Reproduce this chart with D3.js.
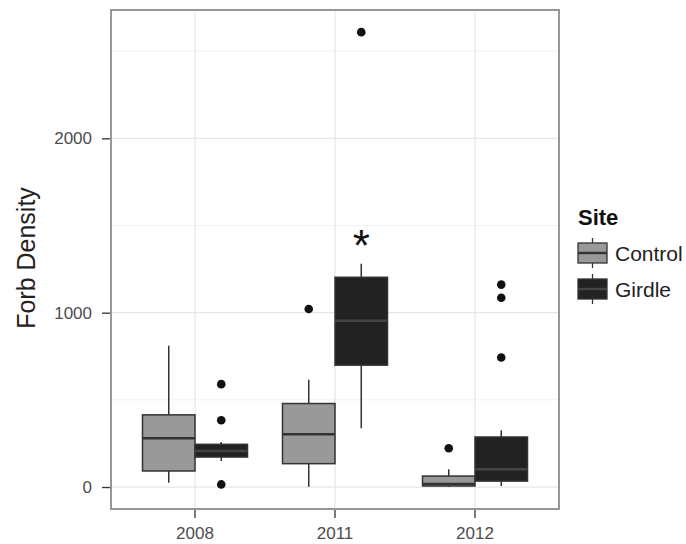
<!DOCTYPE html>
<html lang="en">
<head>
<meta charset="utf-8">
<title>Forb Density</title>
<script src="https://d3js.org/d3.v7.min.js"></script>
<style>
  body, html { margin: 0; background: #fff; }
  svg { font-family: "Liberation Sans", Arial, sans-serif; }
</style>
</head>
<body>
<svg width="686" height="544"></svg>
<script>
// data
var years = ["2008", "2011", "2012"];
var sites = ["Control", "Girdle"];
var yTicks = [0, 1000, 2000];
// [lowerWhisker, q1, median, q3, upperWhisker] per year
var controlStats = [
  [25, 92, 280, 414, 810],
  [2, 134, 303, 479, 615],
  [0, 6, 17, 63, 102]
];
var girdleStats = [
  [150, 172, 207, 245, 258],
  [337, 699, 954, 1203, 1280],
  [6, 34, 102, 287, 326]
];
var controlOutliers = [[], [1021], [222]];
var girdleOutliers = [[590, 383, 15], [2609], [743, 1086, 1161]];
var siteFill = ["#999999", "#222222"];

var svg = d3.select("svg");
var m = {left: 111, right: 559, top: 10, bottom: 509};

var x = d3.scaleBand().domain(years)
  .range([m.left, m.right]).paddingOuter(0.1).paddingInner(0);
var bw = x.bandwidth();
var xs = d3.scaleBand().domain(sites).range([bw * 0.125, bw * 0.875]);

var y = d3.scaleLinear().domain([-126, 2736]).range([m.bottom, m.top]);

// panel + grid
var g = svg.append("g");
g.append("rect").attr("x", m.left).attr("y", m.top)
  .attr("width", m.right - m.left).attr("height", m.bottom - m.top)
  .attr("fill", "#fff");
[500, 1500, 2500].forEach(function(v) {
  g.append("line").attr("x1", m.left).attr("x2", m.right)
    .attr("y1", y(v)).attr("y2", y(v))
    .attr("stroke", "#f2f2f2").attr("stroke-width", 1);
});
yTicks.forEach(function(v) {
  g.append("line").attr("x1", m.left).attr("x2", m.right)
    .attr("y1", y(v)).attr("y2", y(v))
    .attr("stroke", "#e6e6e6").attr("stroke-width", 1.2);
});
years.forEach(function(yr) {
  var cx = x(yr) + bw / 2;
  g.append("line").attr("x1", cx).attr("x2", cx)
    .attr("y1", m.top).attr("y2", m.bottom)
    .attr("stroke", "#e6e6e6").attr("stroke-width", 1.2);
});

// boxes
function drawBoxes(stats, outliers, si) {
  var site = sites[si];
  years.forEach(function(yr, i) {
    var s = stats[i];
    var x0 = x(yr) + xs(site), w = xs.bandwidth(), cx = x0 + w / 2;
    var bg = g.append("g");
    bg.append("line").attr("x1", cx).attr("x2", cx)
      .attr("y1", y(s[4])).attr("y2", y(s[3]))
      .attr("stroke", "#333").attr("stroke-width", 1.5);
    bg.append("line").attr("x1", cx).attr("x2", cx)
      .attr("y1", y(s[1])).attr("y2", y(s[0]))
      .attr("stroke", "#333").attr("stroke-width", 1.5);
    bg.append("rect").attr("x", x0).attr("width", w)
      .attr("y", y(s[3])).attr("height", y(s[1]) - y(s[3]))
      .attr("fill", siteFill[si]).attr("stroke", "#333").attr("stroke-width", 1.5);
    bg.append("line").attr("x1", x0).attr("x2", x0 + w)
      .attr("y1", y(s[2])).attr("y2", y(s[2]))
      .attr("stroke", si ? "#444" : "#333").attr("stroke-width", 2.6);
    outliers[i].forEach(function(v) {
      bg.append("circle").attr("cx", cx).attr("cy", y(v)).attr("r", 4.3)
        .attr("fill", "#111");
    });
  });
}
drawBoxes(controlStats, controlOutliers, 0);
drawBoxes(girdleStats, girdleOutliers, 1);

// significance mark
g.append("text").attr("x", x("2011") + xs("Girdle") + xs.bandwidth() / 2)
  .attr("y", y(1280) - 3).attr("text-anchor", "middle")
  .attr("font-size", 44).attr("fill", "#111").text("*");

// border
g.append("rect").attr("x", m.left).attr("y", m.top)
  .attr("width", m.right - m.left).attr("height", m.bottom - m.top)
  .attr("fill", "none").attr("stroke", "#8c8c8c").attr("stroke-width", 1.8);

// axes
var yAxis = d3.axisLeft(y).tickValues(yTicks).tickSize(8).tickPadding(10)
  .tickFormat(d3.format("d"));
var ya = svg.append("g").attr("transform", "translate(" + (m.left - 1) + ",0)").call(yAxis);
var xAxis = d3.axisBottom(x).tickSize(8).tickPadding(9);
var xa = svg.append("g").attr("transform", "translate(0," + (m.bottom + 1) + ")").call(xAxis);
[ya, xa].forEach(function(a) {
  a.select(".domain").remove();
  a.selectAll(".tick line").attr("stroke", "#333").attr("stroke-width", 1.3);
  a.selectAll(".tick text").attr("fill", "#4d4d4d").attr("font-size", 17)
    .attr("font-family", "Liberation Sans, Arial, sans-serif");
});

svg.append("text")
  .attr("transform", "translate(35,258) rotate(-90)")
  .attr("text-anchor", "middle").attr("font-size", 25).attr("fill", "#222")
  .text("Forb Density");

// legend
var lg = svg.append("g").attr("transform", "translate(578,0)");
lg.append("text").attr("x", 0).attr("y", 225).attr("font-size", 22)
  .attr("font-weight", "bold").attr("fill", "#111").text("Site");
sites.forEach(function(s, i) {
  var cy = 253 + i * 36;
  lg.append("line").attr("x1", 14.5).attr("x2", 14.5)
    .attr("y1", cy - 15).attr("y2", cy + 15)
    .attr("stroke", "#333").attr("stroke-width", 1.3);
  lg.append("rect").attr("x", 0).attr("y", cy - 10).attr("width", 29).attr("height", 20)
    .attr("fill", siteFill[i]).attr("stroke", "#333").attr("stroke-width", 1.3);
  lg.append("line").attr("x1", 0).attr("x2", 29).attr("y1", cy).attr("y2", cy)
    .attr("stroke", i ? "#444" : "#333").attr("stroke-width", 2.4);
  lg.append("text").attr("x", 37).attr("y", cy + 7.5).attr("font-size", 21)
    .attr("fill", "#222").text(s);
});
</script>
</body>
</html>
